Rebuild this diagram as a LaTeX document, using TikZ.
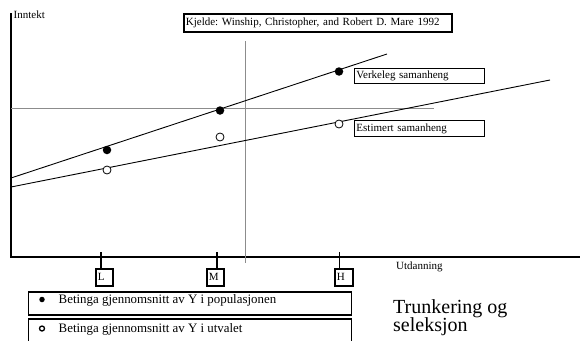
\documentclass[tikz,border=0pt]{standalone}
\usepackage{fontspec}
\setmainfont{Liberation Serif}
\frenchspacing
\begin{document}
\frenchspacing
\begin{tikzpicture}[x=1pt,y=-1pt,
  axis/.style={line width=1.8pt, line join=miter},
  guide/.style={draw=black!45, line width=0.9pt},
  trend/.style={line width=0.9pt},
  fdot/.style={circle, fill=black, inner sep=0pt, minimum size=8.5pt},
  odot/.style={circle, draw=black, fill=white, line width=0.8pt, inner sep=0pt, minimum size=8pt},
  small/.style={font=\fontsize{11}{13}\selectfont},
  box/.style={draw, small, anchor=north west, inner xsep=2pt, inner ysep=0pt,
     text height=8pt, text depth=2.5pt, align=left},
  legbox/.style={draw, anchor=north west, line width=1.5pt, inner sep=0pt, minimum width=323pt},
  legtext/.style={anchor=west, inner sep=0pt, font=\fontsize{12.9}{15}\selectfont},
  tick/.style={line width=1.5pt},
  ldot/.style={circle, fill=black, inner sep=0pt, minimum size=5.5pt},
  lodot/.style={circle, draw=black, line width=1.3pt, inner sep=0pt, minimum size=5pt}
]
\useasboundingbox (0,0) rectangle (580,340);

% axes
\coordinate (ytop) at (11,13);
\coordinate (origin) at (11,257);
\coordinate (xend) at (581,257);
\draw[axis] (ytop) -- (origin) -- (xend);

% guides
\coordinate (vt) at (245,41);
\coordinate (vb) at (245,263);
\coordinate (hl) at (11,108);
\coordinate (hr) at (434,108);
\draw[guide] (vt) -- (vb);
\draw[guide] (hl) -- (hr);

% trend lines
\coordinate (v0) at (11,178);
\coordinate (v1) at (387,54);
\coordinate (e0) at (11,187);
\coordinate (e1) at (550,80);
\draw[trend] (v0) -- (v1);
\draw[trend] (e0) -- (e1);

% points
\node[fdot] (fL) at (107,150) {};
\node[fdot] (fM) at (220,110.5) {};
\node[fdot] (fH) at (339,71.5) {};
\node[odot] (oL) at (107,170) {};
\node[odot] (oM) at (220,137) {};
\node[odot] (oH) at (339,124) {};

% labels
\node[small, anchor=base west, inner sep=0pt] (yl) at (13.5,18) {Inntekt};
\node[small, anchor=base west, inner sep=0pt] (xl) at (396,269) {Utdanning};
\node[box, line width=1.8pt, text width=264pt, minimum height=18pt] (src) at (183,12.7)
  {Kjelde: Winship, Christopher, and Robert D. Mare 1992};
\node[box, line width=0.9pt, text width=126pt, minimum height=15.6pt] (verk) at (354,67.7) {Verkeleg samanheng};
\node[box, line width=0.9pt, text width=126pt, minimum height=16pt] (est) at (354,120) {Estimert samanheng};

% ticks and category boxes
\node[box, line width=1.5pt, text width=13pt, minimum height=17pt] (L) at (95,268) {L};
\node[box, line width=1.5pt, text width=13pt, minimum height=17pt] (M) at (206,268) {M};
\node[box, line width=1.5pt, text width=14pt, minimum height=17pt] (H) at (334,268) {H};
\coordinate (tL) at (101,252);
\coordinate (tM) at (217,252);
\coordinate (tH) at (339.5,252);
\draw[tick] (tL) -- (tL |- L.north);
\draw[tick] (tM) -- (tM |- M.north);
\draw[tick] (tH) -- (tH |- H.north);

% legend
\node[legbox, minimum height=23pt] (leg1) at (27.5,291) {};
\node[legbox, minimum height=30pt] (leg2) at (27.5,318) {};
\node[ldot] (ld1) at (42,299.5) {};
\node[lodot] (ld2) at (42,328.5) {};
\node[legtext] (lt1) at (58.5,300) {Betinga gjennomsnitt av Y i populasjonen};
\node[legtext] (lt2) at (58.5,329) {Betinga gjennomsnitt av Y i utvalet};

% title
\node[anchor=base west, inner sep=0pt, font=\fontsize{20}{20}\selectfont] (tr1) at (393,313.3) {Trunkering og};
\node[anchor=base west, inner sep=0pt, font=\fontsize{20}{20}\selectfont] (tr2) at (393,331.7) {seleksjon};
\end{tikzpicture}
\end{document}
